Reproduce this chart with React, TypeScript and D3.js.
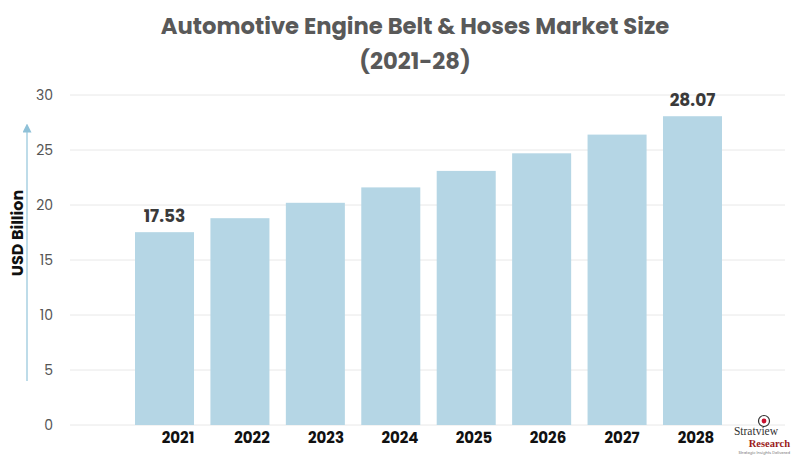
import React from "react"
import * as d3 from "d3"

const years = ["2021", "2022", "2023", "2024", "2025", "2026", "2027", "2028"]
const values = [17.53, 18.8, 20.2, 21.6, 23.1, 24.7, 26.4, 28.07]
const yTicks = [0, 5, 10, 15, 20, 25, 30]
const labelled = ["2021", "2028"]

const W = 800
const H = 458
const FONT = "Poppins, 'DejaVu Sans', sans-serif"

export default function App() {
  const y = d3.scaleLinear().domain([0, 30]).range([425, 95])
  const x = d3.scaleBand().domain(years).range([135, 722]).paddingInner(0.2175).paddingOuter(0)
  // year labels sit a little right of the bar centres in the original
  const xl = d3.scalePoint().domain(years).range([178, 696])

  return (
    <svg width={W} height={H} style={{ position: "fixed", left: 0, top: 0, background: "#fff" }} fontFamily={FONT}>
      <defs>
        <marker id="arr" viewBox="0 0 10 10" refX="5" refY="5" markerWidth="6" markerHeight="6" orient="auto">
          <path d="M0,0 L10,5 L0,10 z" fill="#8fc1d8" />
        </marker>
      </defs>

      <text x={415} y={34} textAnchor="middle" fontSize={22.7} fontWeight={700} fill="#595959">
        Automotive Engine Belt &amp; Hoses Market Size
      </text>
      <text x={415} y={69} textAnchor="middle" fontSize={22.7} fontWeight={700} fill="#595959">
        (2021-28)
      </text>

      {yTicks.map((t) => (
        <g key={t}>
          <line x1={70} x2={785} y1={y(t)} y2={y(t)} stroke="#e8e8e8" strokeWidth={1} />
          <text x={53} y={y(t) + 5} textAnchor="end" fontSize={14} fill="#555">
            {t}
          </text>
        </g>
      ))}

      {/* axis title with arrow */}
      <line x1={27} x2={27} y1={381} y2={128} stroke="#a9d0e2" strokeWidth={1.5} markerEnd="url(#arr)" />
      <text transform="translate(23,233) rotate(-90)" textAnchor="middle" fontSize={16} fontWeight={700} fill="#111">
        USD Billion
      </text>

      {years.map((yr, i) => (
        <g key={yr}>
          <rect x={x(yr)} y={y(values[i])} width={x.bandwidth()} height={y(0) - y(values[i])} fill="#b5d6e5" />
          {labelled.includes(yr) && (
            <text x={x(yr)! + x.bandwidth() / 2} y={y(values[i]) - 10} textAnchor="middle" fontSize={17} fontWeight={700} fill="#3a3a3a">
              {values[i].toFixed(2)}
            </text>
          )}
          <text x={xl(yr)} y={443} textAnchor="middle" fontSize={15} fontWeight={700} fill="#111">
            {yr}
          </text>
        </g>
      ))}

      {/* logo */}
      <g>
        <circle cx={764} cy={421} r={5.5} fill="#fff" stroke="#333" strokeWidth={1.2} />
        <circle cx={764} cy={421} r={2.4} fill="#c8102e" />
        <text x={756} y={435} textAnchor="middle" fontSize={11.5} fontFamily="'Liberation Serif', serif" fill="#333">
          Stratview
        </text>
        <text x={790} y={447} textAnchor="end" fontSize={10.5} fontWeight={700} fontFamily="'Liberation Serif', serif" fill="#9b1b1b">
          Research
        </text>
        <text x={790} y={453.5} textAnchor="end" fontSize={3.8} fill="#777">
          Strategic Insights Delivered
        </text>
      </g>
    </svg>
  )
}
